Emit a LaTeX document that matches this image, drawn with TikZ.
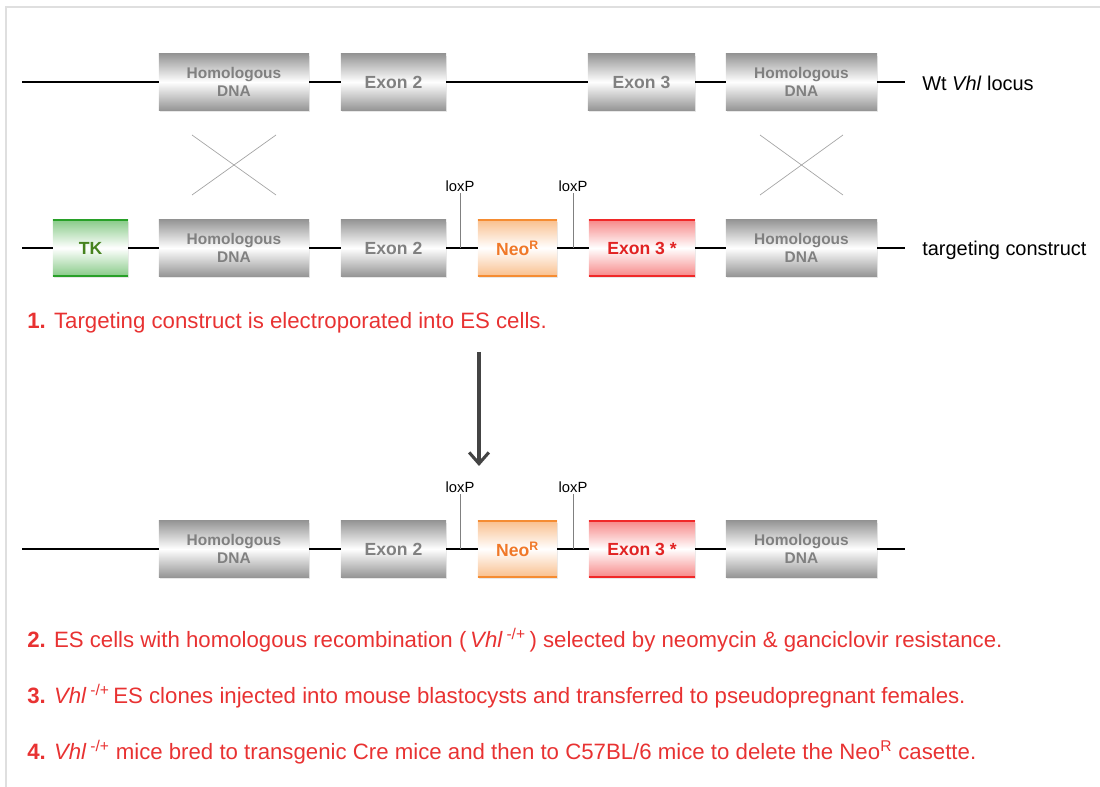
\documentclass[tikz,border=0pt]{standalone}
\usepackage{fontspec}
\setmainfont{Liberation Sans}
\usetikzlibrary{shadows,arrows.meta}

\definecolor{boxgray}{RGB}{150,150,150}
\definecolor{genetext}{RGB}{128,128,128}
\definecolor{tkband}{RGB}{40,160,40}
\definecolor{tktext}{RGB}{70,130,30}
\definecolor{neoband}{RGB}{245,140,50}
\definecolor{neotext}{RGB}{240,120,40}
\definecolor{exband}{RGB}{240,40,40}
\definecolor{extext}{RGB}{225,35,35}
\definecolor{stepred}{RGB}{232,50,50}
\definecolor{arrowgray}{RGB}{68,68,68}

\tikzset{
  gene/.style={rectangle, inner sep=0pt, minimum height=1.4cm, align=center,
    top color=boxgray, bottom color=boxgray, middle color=white,
    text=genetext, font=\bfseries\fontsize{12.5}{14}\selectfont,
    drop shadow={opacity=0.18, shadow xshift=0.4pt, shadow yshift=-1.2pt}},
  homol/.style={gene, font=\bfseries\fontsize{11}{12.7}\selectfont},
  cassette/.style 2 args={gene, top color=#1!55, bottom color=#1!55, middle color=white, text=#2,
    path picture={\draw[#1, line width=2pt]
      (path picture bounding box.north west) -- (path picture bounding box.north east)
      (path picture bounding box.south west) -- (path picture bounding box.south east);}},
  dnaline/.style={line width=1.2pt, black},
  loxlabel/.style={inner sep=1pt, font=\fontsize{10.5}{12}\selectfont},
  loxline/.style={gray, line width=0.6pt},
  crossline/.style={gray!70, line width=0.5pt},
  rowlabel/.style={anchor=west, inner sep=0pt, font=\fontsize{14.2}{16}\selectfont},
  steptext/.style={anchor=west, inner sep=0pt, text=stepred, font=\fontsize{15.8}{18}\selectfont},
}

\begin{document}
\begin{tikzpicture}[x=0.025cm, y=-0.025cm]
  \useasboundingbox (0,0) rectangle (1100,787);
  \draw[gray!25, line width=0.8pt] (6,787) -- (6,7) -- (1100,7);

  % wild type locus
  \coordinate (w0) at (22,82);
  \coordinate (w9) at (905,82);
  \node[homol, minimum width=3.75cm] (wh1) at (234,82)   {Homologous\\DNA};
  \node[gene, minimum width=2.625cm] (we2) at (393.5,82) {Exon 2};
  \node[gene, minimum width=2.675cm] (we3) at (641.5,82) {Exon 3};
  \node[homol, minimum width=3.775cm] (wh2) at (801.5,82) {Homologous\\DNA};
  \draw[dnaline] (w0) -- (wh1) -- (we2) -- (we3) -- (wh2) -- (w9);
  \node[rowlabel] (wlab) at (922,83) {Wt \textit{Vhl} locus};

  % crossing over
  \draw[crossline] (192,135) -- (276,195) (192,195) -- (276,135);
  \draw[crossline] (760,135) -- (843,195) (760,195) -- (843,135);

  % targeting construct
  \coordinate (t0) at (22,248);
  \coordinate (t9) at (905,248);
  \node[cassette={tkband}{tktext}, minimum width=1.875cm] (ttk) at (90.5,248) {TK};
  \node[homol, minimum width=3.75cm] (th1) at (234,248)   {Homologous\\DNA};
  \node[gene, minimum width=2.625cm] (te2) at (393.5,248) {Exon 2};
  \node[cassette={neoband}{neotext}, minimum width=1.975cm] (tneo) at (517.5,248) {Neo\textsuperscript{R}};
  \node[cassette={exband}{extext}, minimum width=2.65cm] (te3) at (642,248) {Exon 3 *};
  \node[homol, minimum width=3.775cm] (th2) at (801.5,248) {Homologous\\DNA};
  \draw[dnaline] (t0) -- (ttk) -- (th1) -- (te2) -- (tneo) -- (te3) -- (th2) -- (t9);
  \node[loxlabel] (tl1) at (460,186) {loxP};
  \node[loxlabel] (tl2) at (573,186) {loxP};
  \coordinate (tl1b) at (460,248);
  \coordinate (tl2b) at (573,248);
  \draw[loxline] (tl1) -- (tl1b) (tl2) -- (tl2b);
  \node[rowlabel] (tlab) at (922,250) {targeting construct};

  \node[steptext] (s1) at (27,323) {\textbf{1.} Targeting construct is electroporated into ES cells.};

  \coordinate (a0) at (479,352);
  \coordinate (a1) at (479,466);
  \draw[arrowgray, line width=2.2pt, -{Straight Barb[length=8pt, width=14pt]}] (a0) -- (a1);

  % recombined allele
  \coordinate (r0) at (22,549);
  \coordinate (r9) at (905,549);
  \node[homol, minimum width=3.75cm] (rh1) at (234,549)   {Homologous\\DNA};
  \node[gene, minimum width=2.625cm] (re2) at (393.5,549) {Exon 2};
  \node[cassette={neoband}{neotext}, minimum width=1.975cm] (rneo) at (517.5,549) {Neo\textsuperscript{R}};
  \node[cassette={exband}{extext}, minimum width=2.65cm] (re3) at (642,549) {Exon 3 *};
  \node[homol, minimum width=3.775cm] (rh2) at (801.5,549) {Homologous\\DNA};
  \draw[dnaline] (r0) -- (rh1) -- (re2) -- (rneo) -- (re3) -- (rh2) -- (r9);
  \node[loxlabel] (rl1) at (460,487) {loxP};
  \node[loxlabel] (rl2) at (573,487) {loxP};
  \coordinate (rl1b) at (460,549);
  \coordinate (rl2b) at (573,549);
  \draw[loxline] (rl1) -- (rl1b) (rl2) -- (rl2b);

  \node[steptext] (s2) at (27,640) {\textbf{2.} ES cells with homologous recombination (\,\textit{Vhl}\,\textsuperscript{-/+}\,) selected by neomycin \& ganciclovir resistance.};
  \node[steptext] (s3) at (27,696) {\textbf{3.} \textit{Vhl}\,\textsuperscript{-/+}\,ES clones injected into mouse blastocysts and transferred to pseudopregnant females.};
  \node[steptext] (s4) at (27,752) {\textbf{4.} \textit{Vhl}\,\textsuperscript{-/+} mice bred to transgenic Cre mice and then to C57BL/6 mice to delete the Neo\textsuperscript{R} casette.};
\end{tikzpicture}
\end{document}
